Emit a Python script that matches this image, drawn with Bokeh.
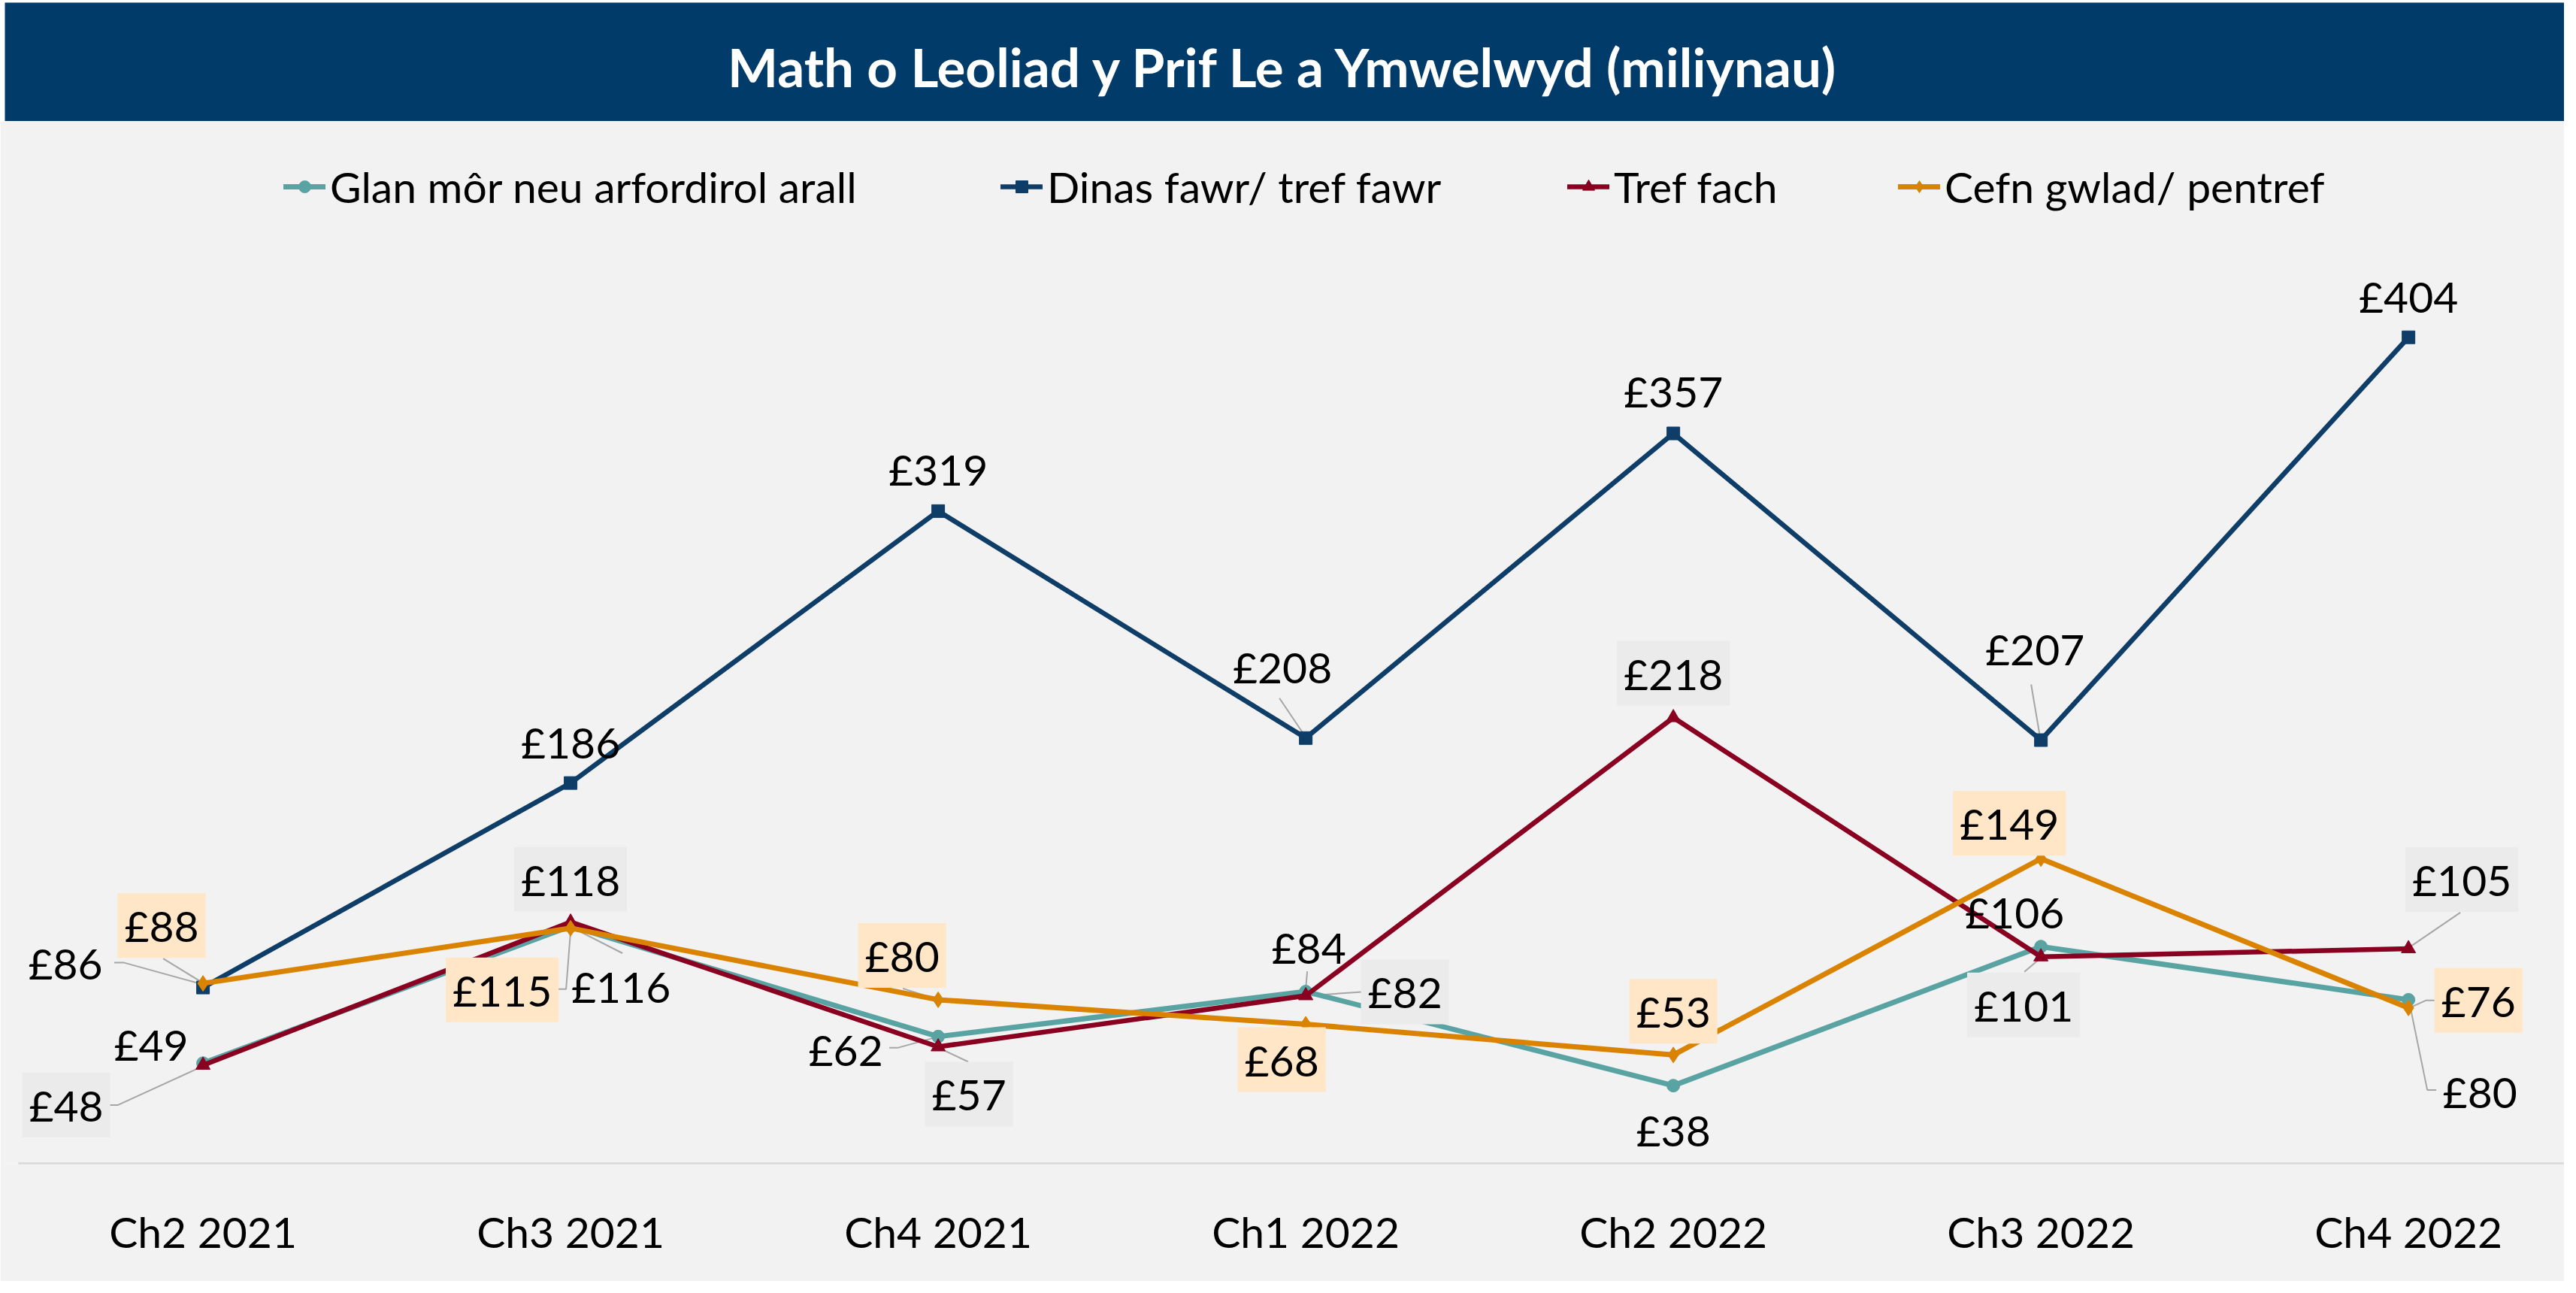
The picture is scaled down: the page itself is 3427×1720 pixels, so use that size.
from bokeh.plotting import figure
from bokeh.models import LinearAxis, FixedTicker, Legend, LegendItem, ColumnDataSource, Range1d
from bokeh.layouts import column
from bokeh.embed import file_html
from bokeh.resources import INLINE
from bokeh.core.properties import value

# ---------------- data ----------------
categories = ["Ch2 2021", "Ch3 2021", "Ch4 2021", "Ch1 2022", "Ch2 2022", "Ch3 2022", "Ch4 2022"]
glan = [49, 116, 62, 84, 38, 106, 80]
dinas = [86, 186, 319, 208, 357, 207, 404]
tref = [48, 118, 57, 82, 218, 101, 105]
cefn = [88, 115, 80, 68, 53, 149, 76]
series_names = ["Glan môr neu arfordirol arall", "Dinas fawr/ tref fawr", "Tref fach", "Cefn gwlad/ pentref"]
title_text = "Math o Leoliad y Prif Le a Ymwelwyd (miliynau)"

# ---------------- styles / layout ----------------
FONT = "Lato"
LEFT = 6
TOP = 3
W = 3405
TITLE_H = 158
MAIN_H = 1543
AXIS_H = 157
FRAME_H = MAIN_H - AXIS_H
X_START, X_END = -0.539, 6.424
Y_END = 509.6
PX_X = W / (X_END - X_START)
PX_Y = FRAME_H / Y_END

colors = ["#5AA3A3", "#0E3D68", "#8A0020", "#DA8300"]
markers = ["circle", "square", "triangle", "diamond"]
msizes = [17, 17, 19, 21]
lwidths = [7, 6.5, 6.5, 7]
box_fill = [None, None, "#EBEBEB", "#FFE6C7"]
legend_x = [371, 1325, 2079, 2519]

# label offsets (screen px, y down) per series per category
label_off = [
    [(-69, -25), (67, 80), (-123, 17), (4, -59), (0, 59), (-35, -46), (95, 122)],
    [(-183, -33), (0, -55), (0, -56), (-31, -95), (0, -57), (-8, -122), (0, -55)],
    [(-182, 53), (0, -57), (41, 63), (132, -5), (0, -59), (-23, 64), (71, -92)],
    [(-55, -77), (-91, 82), (-48, -59), (-32, 47), (0, -58), (-42, -47), (93, -10)],
]
# leader lines: (series, category, polyline in px relative to point, y down)
leaders = [
    (1, 0, [(-118, -33), (-105, -33), (0, -4)]),
    (3, 0, [(-53, -33), (-4, -3)]),
    (2, 0, [(-125, 53), (-113, 53), (-4, 3)]),
    (3, 1, [(-18, 81), (-6, 81), (0, 4)]),
    (0, 1, [(2, 2), (69, 36)]),
    (3, 2, [(-47, -15), (-3, -1)]),
    (0, 2, [(-65, 15), (-54, 15), (-3, 1)]),
    (2, 2, [(40, 20), (2, 2)]),
    (0, 3, [(2, -27), (0, -4)]),
    (2, 3, [(75, -5), (3, 0)]),
    (1, 3, [(-35, -53), (-2, -4)]),
    (2, 5, [(-22, 20), (-2, 3)]),
    (1, 5, [(-13, -74), (-2, -9)]),
    (2, 6, [(69, -48), (3, -3)]),
    (3, 6, [(36, -10), (23, -10), (3, -1)]),
    (0, 6, [(37, 120), (25, 120), (1, 3)]),
]

all_series = [glan, dinas, tref, cefn]
xs = list(range(len(categories)))

# ---------------- title bar ----------------
tfig = figure(width=W + LEFT, height=TITLE_H + TOP, x_range=Range1d(0, W), y_range=Range1d(0, TITLE_H),
              toolbar_location=None, output_backend="svg",
              min_border_left=LEFT, min_border_top=TOP, min_border_right=0, min_border_bottom=0,
              x_axis_location=None, y_axis_location=None,
              background_fill_color="#003B6A", border_fill_color="#FFFFFF",
              outline_line_color=None)
tfig.grid.visible = False
tfig.text(x=[W / 2], y=[TITLE_H - 85], text=[title_text], text_align="center",
          text_baseline="middle", text_font=value(FONT), text_font_style="bold",
          text_font_size="71px", text_color="white")

# ---------------- main chart ----------------
p = figure(width=W + LEFT, height=MAIN_H, x_range=Range1d(X_START, X_END), y_range=Range1d(0, Y_END),
           toolbar_location=None, output_backend="svg",
           min_border_left=LEFT, min_border_right=0, min_border_top=0, min_border_bottom=AXIS_H,
           x_axis_location=None, y_axis_location=None,
           background_fill_color="#F2F2F2", border_fill_color="#F2F2F2",
           outline_line_color=None)
p.grid.visible = False

xaxis = LinearAxis(ticker=FixedTicker(ticks=xs),
                   major_label_overrides={i: c for i, c in enumerate(categories)},
                   bounds=(-0.502, X_END))
xaxis.axis_line_color = "#D9D9D9"
xaxis.axis_line_width = 2.5
xaxis.major_tick_line_color = None
xaxis.minor_tick_line_color = None
xaxis.major_tick_out = 0
xaxis.major_label_standoff = 56
xaxis.major_label_text_font = FONT
xaxis.major_label_text_font_size = "57px"
xaxis.major_label_text_color = "#000000"
p.add_layout(xaxis, "below")

# leader lines
lx, ly = [], []
for s, c, pts in leaders:
    v = all_series[s][c]
    lx.append([c + dx / PX_X for dx, dy in pts])
    ly.append([v - dy / PX_Y for dx, dy in pts])
p.multi_line(xs=lx, ys=ly, line_color="#A6A6A6", line_width=2)

legend_items = []
for k, vals in enumerate(all_series):
    r1 = p.line(xs, vals, line_color=colors[k], line_width=lwidths[k],
                line_cap="round", line_join="round")
    r2 = p.scatter(xs, vals, marker=markers[k], size=msizes[k], fill_color=colors[k],
                   line_color=colors[k])
    legend_items.append(LegendItem(label=series_names[k], renderers=[r1, r2]))

for k, vals in enumerate(all_series):
    src = ColumnDataSource(dict(
        x=xs, y=vals, t=["£%d" % v for v in vals],
        dx=[o[0] for o in label_off[k]], dy=[o[1] for o in label_off[k]]))
    kw = {}
    if box_fill[k] is not None:
        kw = dict(background_fill_color=box_fill[k], padding=9)
    p.text(x="x", y="y", text="t", source=src, x_offset="dx", y_offset="dy",
           text_align="center", text_baseline="middle", text_font=value(FONT),
           text_font_size="57px", text_color="#000000", **kw)

for k, item in enumerate(legend_items):
    lg = Legend(items=[item], orientation="horizontal", location=(legend_x[k], 1265),
                label_text_font=FONT, label_text_font_size="57px", label_text_color="#000000",
                glyph_width=56, glyph_height=40, label_standoff=6, spacing=0,
                padding=0, margin=0, background_fill_alpha=0, border_line_color=None)
    p.add_layout(lg)

layout = column(tfig, p, spacing=0)
open("out.html", "w").write(file_html(layout, INLINE))
